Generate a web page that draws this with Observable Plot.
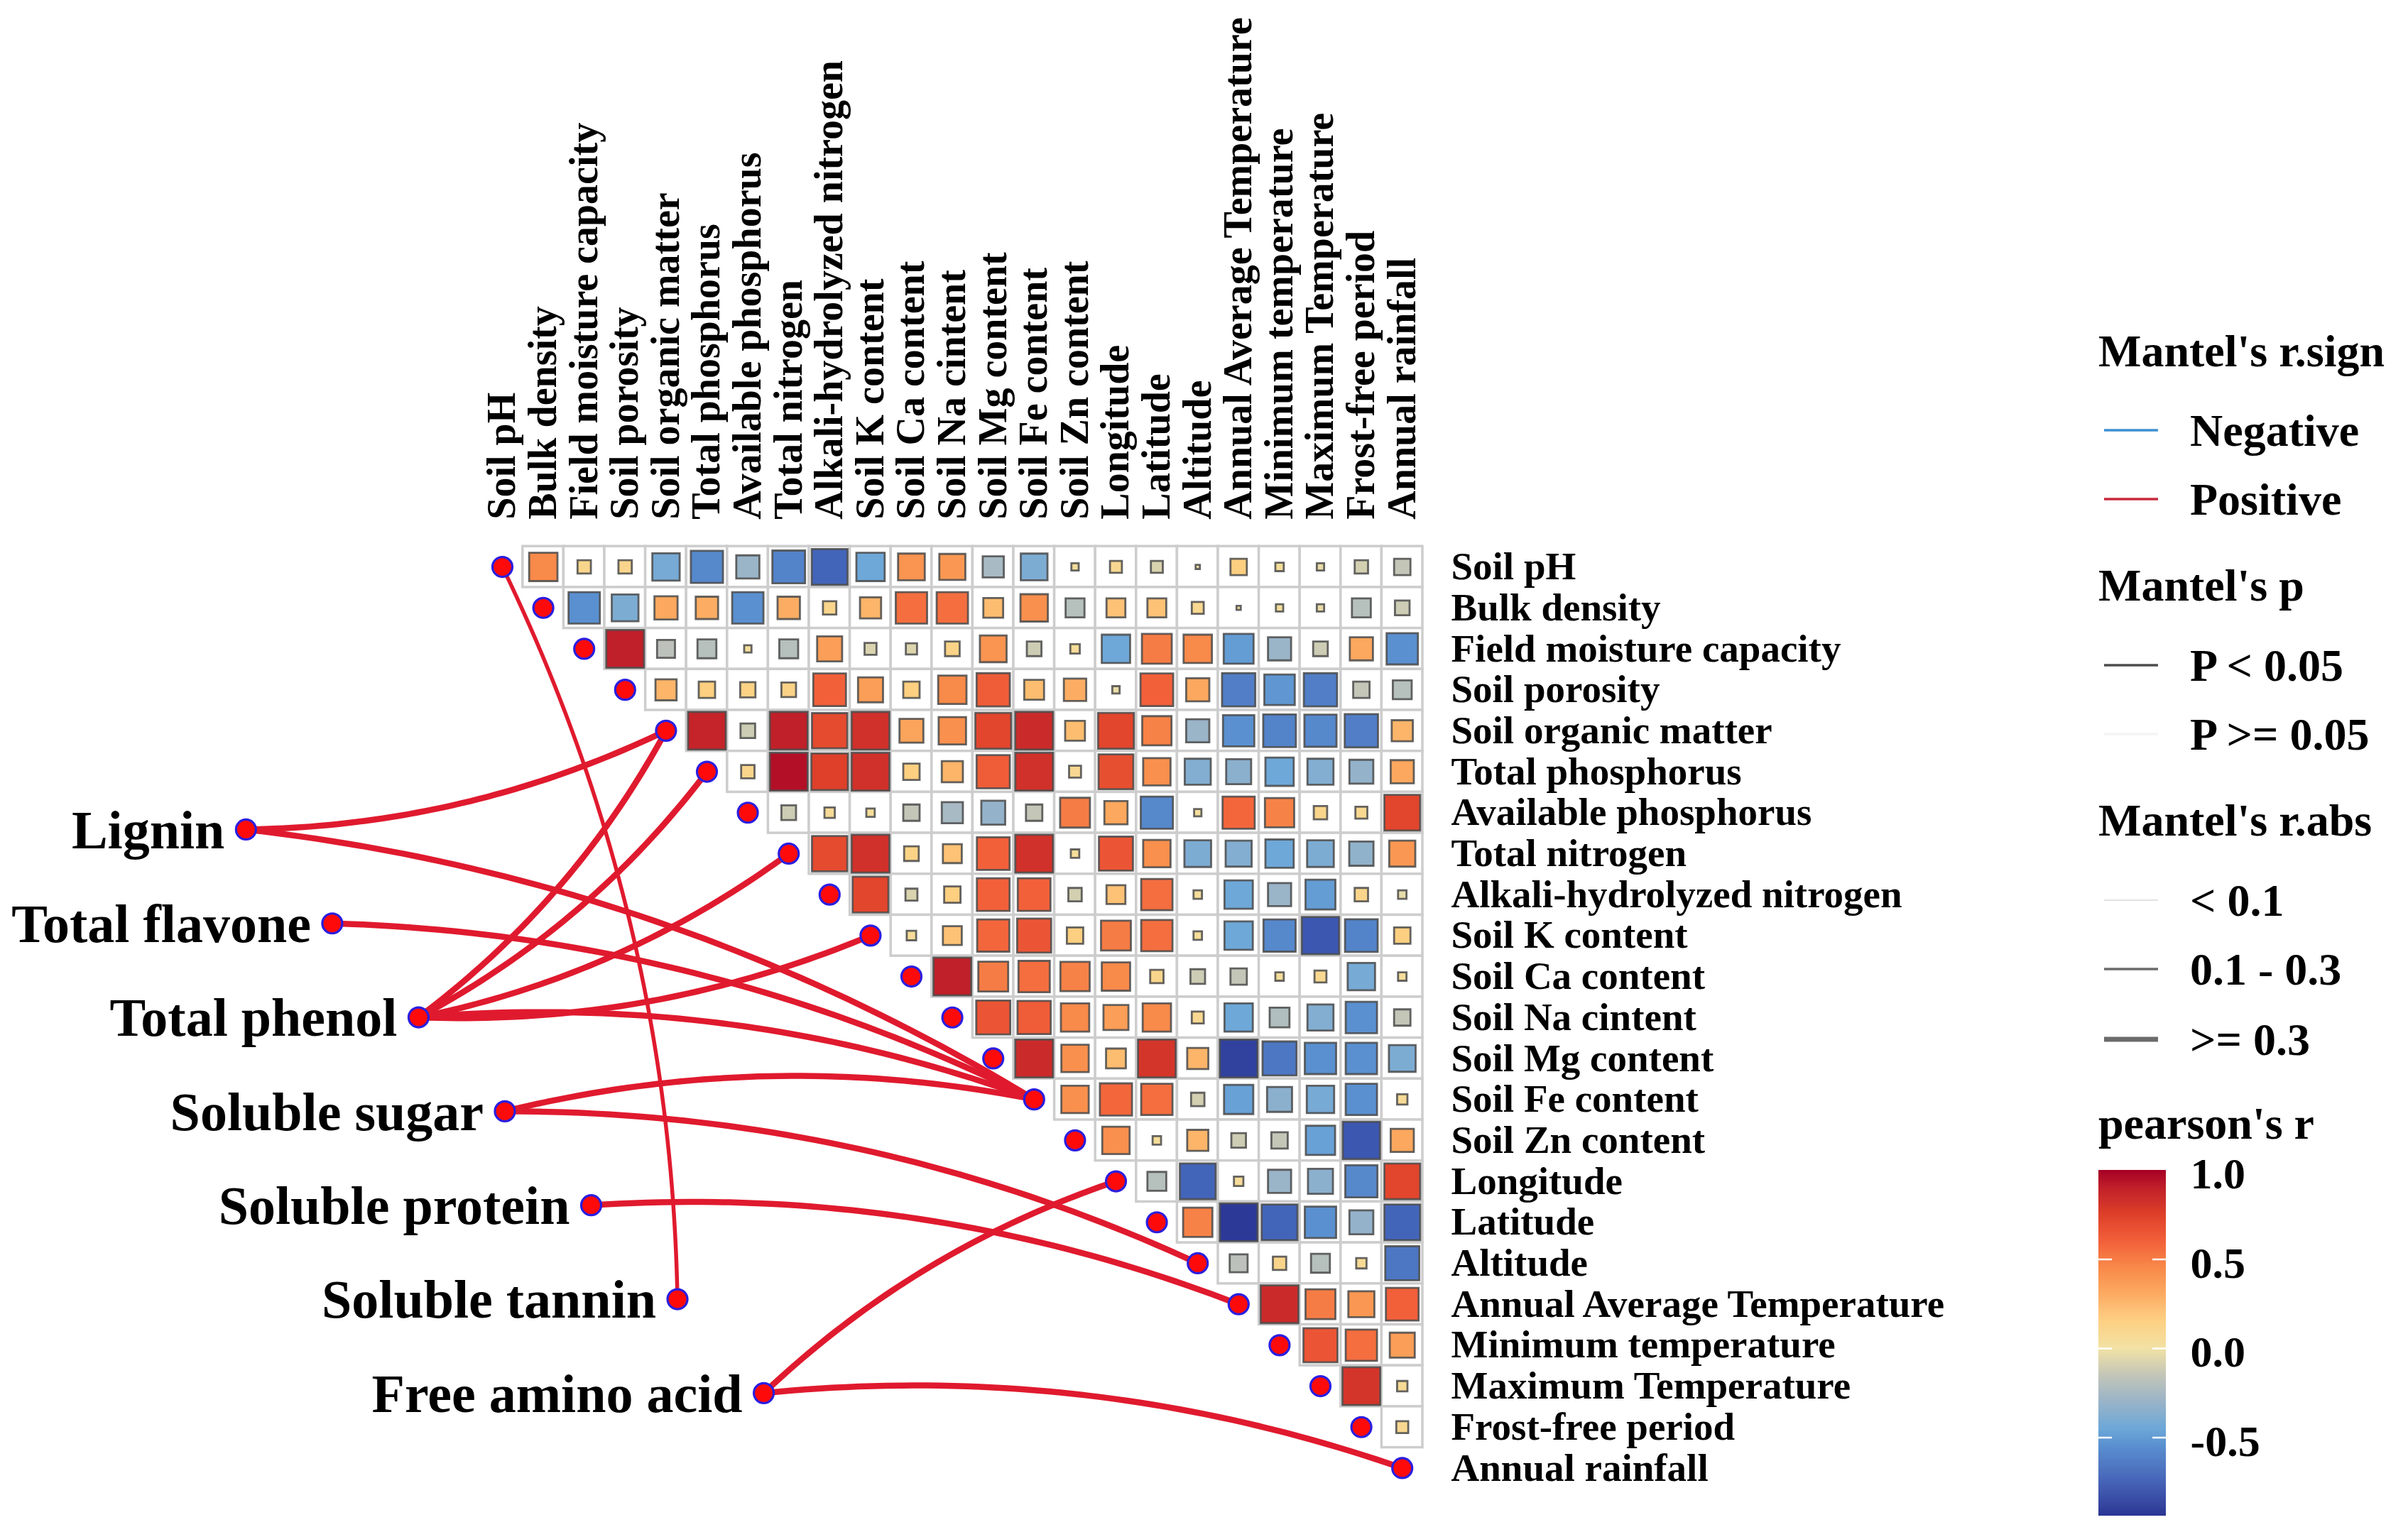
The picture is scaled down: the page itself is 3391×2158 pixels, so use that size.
<!DOCTYPE html>
<html><head><meta charset="utf-8">
<script src="https://cdn.jsdelivr.net/npm/d3@7"></script>
<script src="https://cdn.jsdelivr.net/npm/@observablehq/plot@0.6"></script>
<style>
html,body{margin:0;padding:0;background:#fff;}
#root{position:relative;width:3391px;height:2158px;overflow:hidden;background:#fff;font-family:"Liberation Serif",serif;}
#root > *{position:absolute;}
</style></head><body><div id="root"></div>
<script>
// ---------- data ----------
const vars = ["Soil pH","Bulk density","Field moisture capacity","Soil porosity","Soil organic matter","Total phosphorus","Available phosphorus","Total nitrogen","Alkali-hydrolyzed nitrogen","Soil K content","Soil Ca content","Soil Na cintent","Soil Mg content","Soil Fe content","Soil Zn content","Longitude","Latitude","Altitude","Annual Average Temperature","Minimum temperature","Maximum Temperature","Frost-free period","Annual rainfall"];

// upper triangle of Pearson's r: row i holds columns i+1 .. 22
const corrRows = [
  [0.45, 0.1, 0.1, -0.42, -0.58, -0.3, -0.6, -0.72, -0.45, 0.4, 0.38, -0.25, -0.4, 0.03, 0.08, -0.08, 0.01, 0.15, 0.04, -0.03, -0.1, -0.15],
  [-0.55, -0.4, 0.3, 0.28, -0.55, 0.28, 0.1, 0.25, 0.55, 0.55, 0.22, 0.42, -0.2, 0.2, 0.2, 0.08, 0.01, 0.03, -0.03, -0.2, -0.12],
  [0.9, -0.18, -0.2, 0.03, -0.2, 0.35, -0.08, -0.07, 0.12, 0.4, -0.12, 0.05, -0.45, 0.5, 0.45, -0.5, -0.3, -0.12, 0.3, -0.55],
  [0.25, 0.15, 0.13, 0.12, 0.6, 0.35, 0.15, 0.45, 0.62, 0.22, 0.28, -0.03, 0.6, 0.3, -0.62, -0.52, -0.62, -0.15, -0.2],
  [0.88, -0.12, 0.9, 0.7, 0.82, 0.32, 0.42, 0.72, 0.85, 0.22, 0.72, 0.48, -0.3, -0.55, -0.6, -0.58, -0.62, 0.25],
  [0.1, 0.95, 0.75, 0.82, 0.15, 0.25, 0.62, 0.82, 0.08, 0.68, 0.42, -0.38, -0.35, -0.45, -0.38, -0.32, 0.3],
  [-0.12, 0.06, 0.04, -0.15, -0.25, -0.32, -0.15, 0.5, 0.3, -0.58, 0.03, 0.58, 0.48, 0.1, 0.08, 0.72],
  [0.7, 0.82, 0.12, 0.2, 0.6, 0.82, 0.04, 0.65, 0.42, -0.4, -0.38, -0.45, -0.4, -0.33, 0.38],
  [0.72, -0.08, 0.15, 0.6, 0.6, -0.1, 0.2, 0.55, 0.04, -0.45, -0.3, -0.5, 0.1, -0.04],
  [0.05, 0.2, 0.58, 0.65, 0.15, 0.5, 0.55, 0.04, -0.45, -0.58, -0.78, -0.6, 0.15],
  [0.9, 0.5, 0.55, 0.48, 0.45, 0.1, -0.12, -0.15, 0.04, 0.08, -0.42, 0.04],
  [0.65, 0.62, 0.45, 0.35, 0.45, 0.08, -0.45, -0.22, -0.38, -0.55, -0.15],
  [0.85, 0.42, 0.22, 0.8, 0.25, -0.88, -0.65, -0.55, -0.55, -0.4],
  [0.42, 0.58, 0.55, -0.1, -0.48, -0.35, -0.42, -0.55, 0.06],
  [0.42, 0.04, 0.25, -0.12, -0.15, -0.48, -0.78, 0.3],
  [-0.2, -0.72, 0.05, -0.3, -0.35, -0.58, 0.72],
  [0.48, -0.92, -0.72, -0.55, -0.32, -0.72],
  [-0.18, 0.1, -0.2, 0.06, -0.65],
  [0.85, 0.5, 0.38, 0.6],
  [0.65, 0.55, 0.35],
  [0.8, 0.06],
  [0.08],
  []
];

const specs = ["Lignin","Total flavone","Total phenol","Soluble sugar","Soluble protein","Soluble tannin","Free amino acid"];

// Mantel links (spec -> environmental variable)
const linkFrom = ["Lignin","Lignin","Total flavone","Total phenol","Total phenol","Total phenol","Total phenol","Total phenol","Soluble sugar","Soluble sugar","Soluble protein","Soluble tannin","Free amino acid","Free amino acid"];
const linkTo   = ["Soil organic matter","Soil Fe content","Soil Fe content","Soil organic matter","Total phosphorus","Total nitrogen","Soil K content","Soil Fe content","Soil Fe content","Altitude","Annual Average Temperature","Soil pH","Longitude","Annual rainfall"];
const linkSign = ["Positive","Positive","Positive","Positive","Positive","Positive","Positive","Positive","Positive","Positive","Positive","Positive","Positive","Positive"];
const linkP    = ["P < 0.05","P < 0.05","P < 0.05","P < 0.05","P < 0.05","P < 0.05","P < 0.05","P < 0.05","P < 0.05","P < 0.05","P < 0.05","P < 0.05","P < 0.05","P < 0.05"];
const linkRabs = [">= 0.3",">= 0.3",">= 0.3",">= 0.3",">= 0.3",">= 0.3",">= 0.3",">= 0.3",">= 0.3",">= 0.3",">= 0.3","0.1 - 0.3",">= 0.3",">= 0.3"];

const colorTicks = [1.0, 0.5, 0.0, -0.5];

// ---------- styles / layout ----------
const FONT = "Liberation Serif";
const colorScale = {
  type: "linear",
  domain: [-0.94, -0.75, -0.55, -0.45, -0.3, -0.15, 0, 0.15, 0.3, 0.45, 0.6, 0.75, 0.9, 1],
  range: ["#2b3593","#3f5db5","#5a90d0","#6ea8d8","#9ab4c8","#c4c6b8","#f2e2a4","#fdcf80","#fca85e","#f88a4a","#f2603a","#de402a","#c0202a","#a50026"]
};
const signColor = {Positive: "#e01a2e", Negative: "#3d8fd1"};
const rabsWidth = {"< 0.1": 1.5, "0.1 - 0.3": 5.5, ">= 0.3": 8.5};

// correlation cells
const cells = [];
corrRows.forEach((row, i) => row.forEach((r, k) => {
  const j = i + 1 + k;
  cells.push({i, j, r, a: Math.abs(r)});
}));
const diag = vars.map((v, i) => ({v, i}));

// spec nodes laid out evenly along a line (grid units)
const specStart = [-6.27, 6.41], specEnd = [6.39, 20.17];
const specNodes = specs.map((s, k) => {
  const t = k / (specs.length - 1);
  return {name: s, x: specStart[0] + (specEnd[0] - specStart[0]) * t, y: specStart[1] + (specEnd[1] - specStart[1]) * t};
});
const specPos = Object.fromEntries(specNodes.map(d => [d.name, d]));

// curved links (quadratic curves, curvature side depends on target position)
const linkPts = [];
linkFrom.forEach((f, k) => {
  const s = specPos[f];
  const e = vars.indexOf(linkTo[k]);
  const x1 = s.x, y1 = s.y, x2 = e, y2 = e;
  const dx = x2 - x1, dy = y2 - y1, L = Math.hypot(dx, dy);
  const side = e < vars.length / 2 ? 1 : -1;   // 1 = bend to right of travel
  const nx = -dy / L * side, ny = dx / L * side;
  const off = 0.11 * L;
  const cx = (x1 + x2) / 2 + nx * off, cy = (y1 + y2) / 2 + ny * off;
  const N = 48;
  for (let q = 0; q <= N; q++) {
    const t = q / N, u = 1 - t;
    linkPts.push({id: k, x: u*u*x1 + 2*u*t*cx + t*t*x2, y: u*u*y1 + 2*u*t*cy + t*t*y2,
      sign: linkSign[k], p: linkP[k], rabs: linkRabs[k]});
  }
});

const W = 3391, H = 2158;
const gridLeft = 678.2, gridRight = 2003.0, gridTop = 769.2, gridBottom = 2096.3;

const main = Plot.plot({
  width: W, height: H,
  marginLeft: gridLeft, marginRight: W - gridRight, marginTop: gridTop, marginBottom: H - gridBottom,
  x: {domain: [-0.5, 22.5], axis: null},
  y: {domain: [22.5, -0.5], axis: null},
  color: colorScale,
  r: {type: "sqrt", domain: [0, 0.8], range: [0, 30], clamp: true},
  style: {fontFamily: FONT, background: "white", overflow: "visible"},
  marks: [
    Plot.rect(cells, {x1: d => d.j - 0.5, x2: d => d.j + 0.5, y1: d => d.i - 0.5, y2: d => d.i + 0.5,
      fill: "white", stroke: "#cdcdcd", strokeWidth: 3.5}),
    Plot.dot(cells, {x: "j", y: "i", r: "a", fill: "r", symbol: "square",
      stroke: "#4a4a4a", strokeWidth: 2.8, strokeOpacity: 0.85}),
    Plot.line(linkPts, {x: "x", y: "y", z: "id", stroke: d => signColor[d.sign],
      strokeWidth: d => rabsWidth[d.rabs], strokeLinecap: "round", curve: "linear"}),
    Plot.dot(diag, {x: "i", y: "i", r: 14, fill: "#ff0a0a", stroke: "#2a1ee0", strokeWidth: 3.2}),
    Plot.dot(specNodes, {x: "x", y: "y", r: 14, fill: "#ff0a0a", stroke: "#2a1ee0", strokeWidth: 3.2}),
    Plot.text(specNodes, {x: "x", y: "y", text: "name", textAnchor: "end", dx: -30, dy: 2,
      fontSize: 76, fontWeight: "bold", fill: "black"}),
    Plot.text(diag, {x: 22.5, y: "i", text: "v", textAnchor: "start", dx: 40, lineAnchor: "middle",
      fontSize: 55, fontWeight: "bold", fill: "black"}),
    Plot.text(diag, {x: "i", y: -0.5, text: "v", textAnchor: "start", rotate: -90, dy: -38, lineAnchor: "middle",
      fontSize: 56, fontWeight: "bold", fill: "black"})
  ]
});
main.style.left = "0px"; main.style.top = "0px";
document.getElementById("root").appendChild(main);

// ---------- legend (lines) ----------
const LX = 2900;
const lg = d3.create("svg").attr("width", 491).attr("height", H)
  .style("left", LX + "px").style("top", "0px").style("font-family", FONT);
const title = (t, y) => lg.append("text").attr("x", 2955 - LX).attr("y", y).attr("dominant-baseline", "central")
  .attr("font-size", 64).attr("font-weight", "bold").text(t);
const item = (t, y, stroke, sw) => {
  if (stroke) lg.append("line").attr("x1", 2963 - LX).attr("x2", 3039 - LX).attr("y1", y).attr("y2", y)
    .attr("stroke", stroke).attr("stroke-width", sw);
  lg.append("text").attr("x", 3084 - LX).attr("y", y).attr("dominant-baseline", "central")
    .attr("font-size", 64).attr("font-weight", "bold").text(t);
};
title("Mantel's r.sign", 494);
item("Negative", 606, signColor.Negative, 3.5);
item("Positive", 703, "#c8283c", 3.5);
title("Mantel's p", 824);
item("P < 0.05", 937, "#4d4d4d", 3.5);
item("P >= 0.05", 1034, "#f4f4f4", 3.5);
title("Mantel's r.abs", 1155);
item("< 0.1", 1268, "#d9d9d9", 1.5);
item("0.1 - 0.3", 1365, "#6b6b6b", 3.5);
item(">= 0.3", 1464, "#6b6b6b", 7);
title("pearson's r", 1582);
document.getElementById("root").appendChild(lg.node());

// ---------- legend (colour bar) ----------
const step = 0.004;
const slices = d3.range(-0.94, 1.0, step).map(v => ({v}));
const bar = Plot.plot({
  width: 436, height: 519, marginLeft: 0, marginRight: 341, marginTop: 12, marginBottom: 20,
  x: {domain: [0, 1], axis: null},
  y: {domain: [-0.94, 1], axis: null},
  color: colorScale,
  style: {fontFamily: FONT, background: "transparent", overflow: "visible"},
  marks: [
    Plot.rect(slices, {x1: 0, x2: 1, y1: "v", y2: d => Math.min(1, d.v + step * 1.6), fill: "v"}),
    Plot.ruleY(colorTicks.filter(t => t < 1), {x1: 0, x2: 0.2, stroke: "white", strokeWidth: 2.5}),
    Plot.ruleY(colorTicks.filter(t => t < 1), {x1: 0.8, x2: 1, stroke: "white", strokeWidth: 2.5}),
    Plot.text(colorTicks, {x: 1, y: d => d, text: d => d.toFixed(1), textAnchor: "start", dx: 34, dy: 6,
      fontSize: 62, fontWeight: "bold", fill: "black"})
  ]
});
bar.style.left = "2955px"; bar.style.top = "1636px";
document.getElementById("root").appendChild(bar);
</script></body></html>
